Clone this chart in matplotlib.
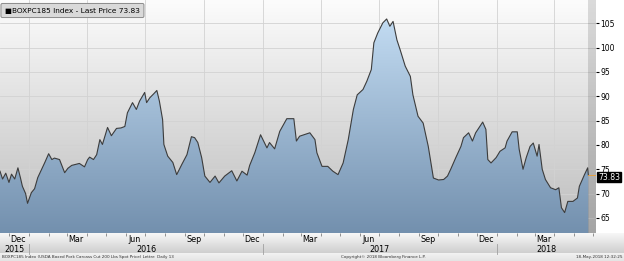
#!/usr/bin/env python3
# coding: utf-8
"""
BOXPC185 Index (USDA boxed pork carcass cutout), Bloomberg style area chart.
"""
import matplotlib
matplotlib.use('AGG')
import matplotlib.pyplot as plt
import matplotlib.dates as mdates
from matplotlib.colors import LinearSegmentedColormap
import numpy as np
import pandas as pd

# Price points
dates = [
    '2015-11-17', '2015-11-21', '2015-11-26', '2015-12-01', '2015-12-05',
    '2015-12-10', '2015-12-15', '2015-12-19', '2015-12-22', '2015-12-27',
    '2015-12-30', '2016-01-05', '2016-01-10', '2016-01-15', '2016-01-21',
    '2016-01-26', '2016-02-01', '2016-02-06', '2016-02-10', '2016-02-18',
    '2016-02-26', '2016-03-02', '2016-03-08', '2016-03-14', '2016-03-20',
    '2016-03-28', '2016-04-02', '2016-04-05', '2016-04-11', '2016-04-16',
    '2016-04-21', '2016-04-25', '2016-05-03', '2016-05-09', '2016-05-17',
    '2016-05-24', '2016-05-30', '2016-06-03', '2016-06-11', '2016-06-17',
    '2016-06-22', '2016-06-30', '2016-07-03', '2016-07-08', '2016-07-14',
    '2016-07-19', '2016-07-23', '2016-07-28', '2016-07-30', '2016-08-05',
    '2016-08-13', '2016-08-19', '2016-08-27', '2016-09-04', '2016-09-11',
    '2016-09-16', '2016-09-21', '2016-09-27', '2016-10-02', '2016-10-10',
    '2016-10-18', '2016-10-24', '2016-11-02', '2016-11-13', '2016-11-21',
    '2016-11-29', '2016-12-07', '2016-12-11', '2016-12-19', '2016-12-28',
    '2017-01-07', '2017-01-11', '2017-01-19', '2017-01-27', '2017-02-07',
    '2017-02-18', '2017-02-22', '2017-02-27', '2017-03-15', '2017-03-23',
    '2017-03-26', '2017-04-03', '2017-04-12', '2017-04-20', '2017-04-28',
    '2017-05-06', '2017-05-14', '2017-05-22', '2017-05-28', '2017-06-06',
    '2017-06-12', '2017-06-19', '2017-06-23', '2017-06-29', '2017-07-07',
    '2017-07-13', '2017-07-18', '2017-07-23', '2017-07-29', '2017-08-03',
    '2017-08-11', '2017-08-19', '2017-08-23', '2017-08-31', '2017-09-08',
    '2017-09-16', '2017-09-24', '2017-10-02', '2017-10-10', '2017-10-16',
    '2017-10-21', '2017-10-29', '2017-11-06', '2017-11-10', '2017-11-18',
    '2017-11-24', '2017-11-29', '2017-12-04', '2017-12-10', '2017-12-15',
    '2017-12-18', '2017-12-23', '2017-12-31', '2018-01-06', '2018-01-14',
    '2018-01-17', '2018-01-25', '2018-02-02', '2018-02-05', '2018-02-11',
    '2018-02-16', '2018-02-22', '2018-02-27', '2018-03-05', '2018-03-08',
    '2018-03-13', '2018-03-18', '2018-03-26', '2018-04-03', '2018-04-08',
    '2018-04-12', '2018-04-17', '2018-04-22', '2018-04-30', '2018-05-07',
    '2018-05-10', '2018-05-18', '2018-05-23', '2018-05-24',
]
prices = [
    74.6, 73.0, 74.2, 72.3, 74.0,
    73.0, 75.3, 73.2, 71.5, 70.0,
    68.0, 70.2, 71.0, 73.3, 75.0,
    76.4, 78.2, 77.0, 77.3, 77.0,
    74.3, 75.2, 75.8, 76.0, 76.2,
    75.5, 77.0, 77.5, 77.0, 78.0,
    81.1, 80.1, 83.6, 81.9, 83.4,
    83.5, 83.8, 86.6, 88.7, 87.3,
    89.0, 90.8, 88.7, 89.7, 90.5,
    91.2, 89.0, 85.2, 80.1, 77.7,
    76.4, 73.9, 76.0, 78.0, 81.7,
    81.5, 80.5, 77.4, 73.6, 72.3,
    73.6, 72.2, 73.6, 74.7, 72.6,
    74.6, 73.8, 75.8, 78.4, 82.1,
    79.4, 80.5, 79.2, 82.8, 85.4,
    85.4, 80.8, 81.8, 82.5, 81.1,
    78.4, 75.6, 75.6, 74.6, 73.9,
    76.3, 81.1, 87.3, 90.3, 91.4,
    93.1, 95.5, 101.0, 103.0, 105.1,
    105.9, 104.4, 105.4, 101.6, 99.6,
    96.2, 94.1, 90.3, 85.9, 84.5,
    79.7, 73.2, 72.8, 72.9, 73.6,
    75.0, 77.4, 79.7, 81.5, 82.5,
    80.8, 82.5, 83.5, 84.7, 83.2,
    77.0, 76.3, 77.4, 78.7, 79.4,
    80.8, 82.7, 82.7, 79.1, 75.0,
    77.4, 79.7, 80.4, 77.7, 80.1,
    75.0, 72.9, 71.2, 70.8, 71.2,
    67.1, 66.1, 68.4, 68.4, 69.1,
    71.5, 73.9, 75.3, 73.83,
]
last_price = 73.83
y_ticks = [65, 70, 75, 80, 85, 90, 95, 100, 105]
month_labels = ['Dec', 'Mar', 'Jun', 'Sep', 'Dec', 'Mar', 'Jun', 'Sep', 'Dec', 'Mar']
month_label_dates = ['2015-12-15', '2016-03-15', '2016-06-15', '2016-09-15',
                     '2016-12-15', '2017-03-15', '2017-06-15', '2017-09-15',
                     '2017-12-15', '2018-03-15']
years = ['2015', '2016', '2017', '2018']

W, H = 624, 261
x_lo = mdates.date2num(pd.Timestamp('2015-11-17'))
x_hi = mdates.date2num(pd.Timestamp('2018-06-05'))
y_lo, y_hi = 61.9, 109.8

x = mdates.date2num(pd.to_datetime(dates))
y = np.array(prices)

fig = plt.figure(figsize=(W / 100, H / 100), dpi=100)
fig.patch.set_facecolor('white')

# background band for the date labels
bg = fig.add_axes([0, 0, 1, 1], zorder=-1)
bg.set_xlim(0, W)
bg.set_ylim(H, 0)
bg.axis('off')
band = np.linspace(0, 1, 64).reshape(-1, 1)
band_cmap = LinearSegmentedColormap.from_list('band', ['#f7f7f7', '#cfcfcf'])
bg.imshow(band, extent=[0, W, 253, 233], aspect='auto', cmap=band_cmap)
bg.imshow(band, extent=[0, W, 261, 253], aspect='auto',
          cmap=LinearSegmentedColormap.from_list('foot', ['#f2f2f2', '#e4e4e4']))

ax = fig.add_axes([0, 1 - 233 / H, 596 / W, 233 / H])
ax.set_xlim(x_lo, x_hi)
ax.set_ylim(y_lo, y_hi)

# grey backdrop gradient
grad = np.linspace(0, 1, 256).reshape(-1, 1)
back_cmap = LinearSegmentedColormap.from_list('back', ['#bdbdbd', '#fcfcfc'])
ax.imshow(grad, extent=[x_lo, x_hi, y_lo, y_hi], origin='lower', aspect='auto',
          cmap=back_cmap, zorder=0)

# grid
for yt in y_ticks:
    ax.axhline(yt, color='#d2d2d2', lw=0.6, zorder=1)
for q in pd.date_range('2016-01-01', '2018-04-01', freq='QS'):
    ax.axvline(mdates.date2num(q), color='#d2d2d2', lw=0.6, zorder=1)

# blue gradient area under the price line
poly = ax.fill_between(x, y, y_lo, color='none', lw=0)
fill_cmap = LinearSegmentedColormap.from_list('fill', ['#7390ae', '#c9e2f8'])
im = ax.imshow(grad, extent=[x_lo, x_hi, y_lo, y_hi], origin='lower', aspect='auto',
               cmap=fill_cmap, zorder=2)
im.set_clip_path(poly.get_paths()[0], transform=ax.transData)

ax.plot(x, y, color='#3c3c3c', lw=0.8, zorder=3)

# shaded area past the last print
ax.axvspan(x[-1], x_hi, color='black', alpha=0.13, lw=0, zorder=2)
ax.plot([x[-1], x_hi], [last_price, last_price], color='#f0a030', lw=0.6, zorder=3)

for s in ax.spines.values():
    s.set_visible(False)

ax.yaxis.tick_right()
ax.set_yticks(y_ticks)
ax.set_yticklabels([str(t) for t in y_ticks])
ax.tick_params(axis='y', length=2, width=0.8, pad=1, labelsize=5.5, colors='black')

month_starts = mdates.date2num(pd.date_range('2015-12-01', '2018-06-01', freq='MS'))
ax.set_xticks(month_starts)
ax.set_xticklabels([])
ax.tick_params(axis='x', length=2, width=0.6, color='#808080', direction='out')

xt = ax.get_xaxis_transform()
for lab, d in zip(month_labels, month_label_dates):
    ax.text(mdates.date2num(pd.Timestamp(d)), -0.026, lab, transform=xt,
            ha='center', va='center', fontsize=5.8, clip_on=False)

year_edges = [x_lo] + [mdates.date2num(pd.Timestamp(f'{yr}-01-01')) for yr in (2016, 2017, 2018)] + [x_hi]
for i, yr in enumerate(years):
    mid = (year_edges[i] + year_edges[i + 1]) / 2
    ax.text(mid, -0.069, yr, transform=xt, ha='center', va='center',
            fontsize=5.8, clip_on=False)
for e in year_edges[1:-1]:
    ax.plot([e, e], [-0.047, -0.092], transform=xt, color='#a0a0a0', lw=0.6,
            clip_on=False)

# legend box and last price tag
fig.text(5 / W, 1 - 10.5 / H, '\u25a0BOXPC185 Index - Last Price 73.83',
         fontsize=5.3, va='center', ha='left',
         bbox=dict(boxstyle='round,pad=0.55,rounding_size=0.2',
                   fc='#d9d9d9', ec='#8a8a8a', lw=0.7))
ax.annotate('73.83', xy=(1, last_price), xycoords=('axes fraction', 'data'),
            xytext=(1.5, -1.5), textcoords='offset points', fontsize=5.6,
            color='white', va='center', ha='left', annotation_clip=False,
            bbox=dict(boxstyle='square,pad=0.1', fc='black', ec='black'))

# footer
fig.text(2 / W, 1 - 257 / H,
         'BOXPC185 Index (USDA Boxed Pork Carcass Cut 200 Lbs Spot Price) Lettre  Daily 13',
         fontsize=3, va='center', ha='left', color='#303030')
fig.text(383 / W, 1 - 257 / H, 'Copyright\u00a9 2018 Bloomberg Finance L.P.',
         fontsize=3, va='center', ha='center', color='#303030')
fig.text(622 / W, 1 - 257 / H, '18-May-2018 12:32:25',
         fontsize=3, va='center', ha='right', color='#303030')

fig.savefig('out.png', dpi=100)
